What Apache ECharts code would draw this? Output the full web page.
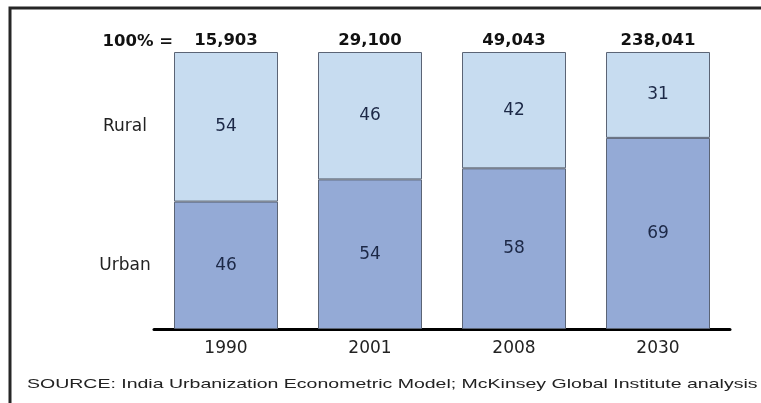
<!DOCTYPE html>
<html>
<head>
<meta charset="utf-8">
<script src="https://cdn.jsdelivr.net/npm/echarts@6/dist/echarts.min.js"></script>
<style>
  html, body { margin: 0; padding: 0; background: #fff; }
  #chart_id { width: 761px; height: 403px; }
</style>
</head>
<body>
<div id="chart_id"></div>
<script>
// data
var years = ['1990', '2001', '2008', '2030'];
var totals = ['15,903', '29,100', '49,043', '238,041'];
var urban = [46, 54, 58, 69];
var rural = [54, 46, 42, 31];
var sourceText = 'SOURCE: India Urbanization Econometric Model; McKinsey Global Institute analysis';

var chart = echarts.init(document.getElementById('chart_id'));

var option = {
  animation: false,
  backgroundColor: '#fff',
  grid: {
    left: 154,
    right: 31,
    top: 52,
    bottom: 74
  },
  xAxis: [
    {
      type: 'category',
      position: 'bottom',
      data: years,
      axisTick: { show: false },
      axisLine: { show: true, lineStyle: { color: '#000', width: 3 } },
      axisLabel: {
        color: '#222',
        fontFamily: 'DejaVu Sans',
        fontSize: 17,
        margin: 11
      }
    },
    {
      type: 'category',
      position: 'top',
      data: totals,
      axisTick: { show: false },
      axisLine: { show: false },
      axisLabel: {
        color: '#111',
        fontFamily: 'DejaVu Sans',
        fontWeight: 'bold',
        fontSize: 16.5,
        margin: 3
      }
    }
  ],
  yAxis: [
    {
      type: 'value',
      min: 0,
      max: 100,
      splitLine: { show: false },
      axisTick: { show: false },
      axisLine: { show: false },
      axisLabel: {
        customValues: [urban[0] / 2, urban[0] + rural[0] / 2],
        formatter: function (v) {
          return v < urban[0] ? 'Urban' : 'Rural';
        },
        align: 'center',
        margin: 29,
        color: '#222',
        fontFamily: 'DejaVu Sans',
        fontSize: 17
      }
    }
  ],
  series: [
    {
      name: 'Urban',
      type: 'bar',
      stack: 'share',
      data: urban,
      barWidth: 104,
      itemStyle: { color: '#94aad6', borderColor: '#5b6475', borderWidth: 1 },
      label: {
        show: true,
        position: 'inside',
        color: '#1c2846',
        fontFamily: 'DejaVu Sans',
        fontSize: 17
      }
    },
    {
      name: 'Rural',
      type: 'bar',
      stack: 'share',
      data: rural,
      barWidth: 104,
      itemStyle: { color: '#c7dcf0', borderColor: '#5b6475', borderWidth: 1 },
      label: {
        show: true,
        position: 'inside',
        color: '#1c2846',
        fontFamily: 'DejaVu Sans',
        fontSize: 17
      }
    }
  ],
  graphic: [
    {
      type: 'rect',
      shape: { x: 10, y: 8, width: 800, height: 450 },
      style: { fill: 'none', stroke: '#262626', lineWidth: 3 },
      silent: true
    },
    {
      type: 'text',
      x: 173,
      y: 42,
      style: {
        text: '100% =',
        fill: '#111',
        font: 'bold 16.5px "DejaVu Sans"',
        align: 'right',
        verticalAlign: 'middle'
      }
    },
    {
      type: 'text',
      x: 27,
      y: 384,
      scaleX: 1.5,
      style: {
        text: sourceText,
        fill: '#222',
        font: '13px "Liberation Sans"',
        align: 'left',
        verticalAlign: 'middle'
      }
    }
  ]
};

chart.setOption(option);
</script>
</body>
</html>
